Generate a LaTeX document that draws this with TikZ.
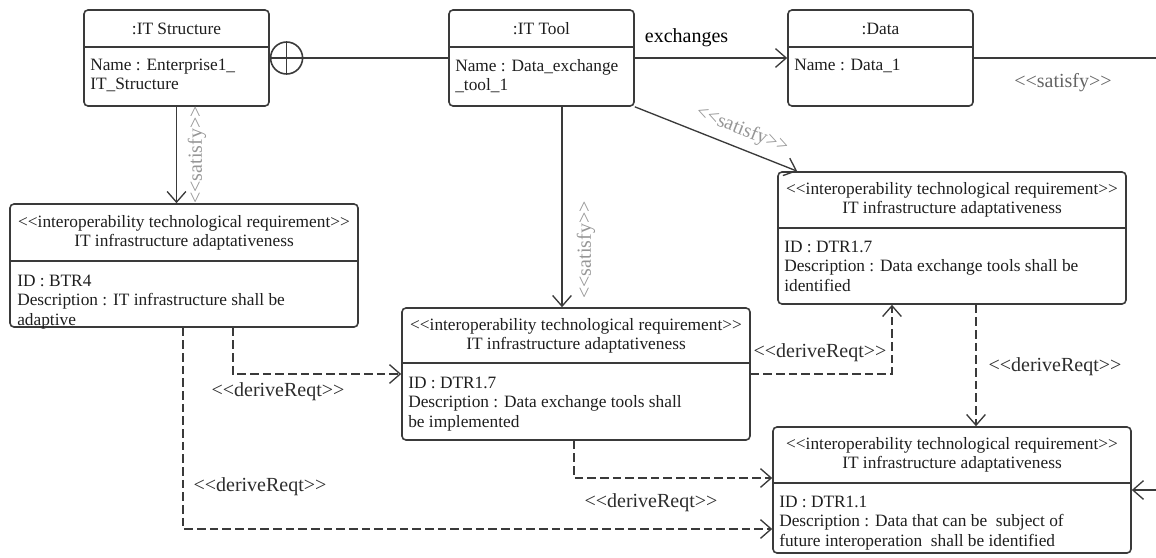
\documentclass[tikz,border=0pt]{standalone}
\usepackage{fontspec}
\newfontfamily\umlfont{Liberation Serif}
\usetikzlibrary{arrows.meta,calc,fit}
\definecolor{boxline}{RGB}{58,58,58}
\definecolor{boxtext}{RGB}{30,30,30}
\definecolor{satisfytext}{RGB}{150,150,150}
\definecolor{satisfydark}{RGB}{100,100,100}
\definecolor{derivetext}{RGB}{45,45,45}

\begin{document}
\begin{tikzpicture}[x=0.75pt, y=-0.75pt]
    \tikzstyle{every node} = [font=\umlfont\fontsize{13}{14.4}\selectfont, text=boxtext, inner sep=0pt]
    \tikzstyle{block} = [draw=boxline, line width=1.2pt, rounded corners=3pt]
    \tikzstyle{divider} = [draw=boxline, line width=1.6pt]
    \tikzstyle{head} = [align=center]
    \tikzstyle{body} = [align=left, anchor=north west]
    \tikzstyle{link} = [draw=boxline, line width=1pt]
    \tikzstyle{derive} = [link, dash pattern=on 6.5pt off 3pt]
    \tikzstyle{opentip} = [-{Straight Barb[length=8pt,width=14pt]}]
    \tikzstyle{linklabel} = [font=\umlfont\fontsize{15}{18}\selectfont]
    \tikzstyle{satisfy} = [linklabel, text=satisfytext]
    \tikzstyle{derivelabel} = [linklabel, text=derivetext]
    \useasboundingbox (0,0) rectangle (1156,557);

    % class instances
    \node[block, fit={(84,10) (269,106)}] (itstruct) {};
    \draw[divider] (84,47) -- (269,47);
    \node[head] (itstruct-name) at (176.5,28.5) {:IT Structure};
    \node[body] (itstruct-attr) at (90,59) {Name : Enterprise1\_\\IT\_Structure};

    \node[block, fit={(449,10) (634,106)}] (ittool) {};
    \draw[divider] (449,47) -- (634,47);
    \node[head] (ittool-name) at (541.5,28.5) {:IT Tool};
    \node[body] (ittool-attr) at (455,59) {Name : Data\_exchange\\\_tool\_1};

    \node[block, fit={(788,10) (973,106)}] (data) {};
    \draw[divider] (788,47) -- (973,47);
    \node[head] (data-name) at (880.5,28.5) {:Data};
    \node[body] (data-attr) at (794,59) {Name : Data\_1};

    % requirements
    \node[block, fit={(10,204) (358,327)}] (btr) {};
    \draw[divider] (10,261) -- (358,261);
    \node[head] (btr-name) at (184,232.5) {<<interoperability technological requirement>>\\IT infrastructure adaptativeness};
    \node[body] (btr-attr) at (17,275) {ID : BTR4\\Description : IT infrastructure shall be\\adaptive};

    \node[block, fit={(402,308) (750,440)}] (dtrimpl) {};
    \draw[divider] (402,363) -- (750,363);
    \node[head] (dtrimpl-name) at (576,336) {<<interoperability technological requirement>>\\IT infrastructure adaptativeness};
    \node[body] (dtrimpl-attr) at (408,377) {ID : DTR1.7\\Description : Data exchange tools shall\\be implemented};

    \node[block, fit={(778,172) (1126,304)}] (dtrident) {};
    \draw[divider] (778,228) -- (1126,228);
    \node[head] (dtrident-name) at (952,200) {<<interoperability technological requirement>>\\IT infrastructure adaptativeness};
    \node[body] (dtrident-attr) at (784,241) {ID : DTR1.7\\Description : Data exchange tools shall be\\identified};

    \node[block, fit={(773,427) (1131,553)}] (dtrfut) {};
    \draw[divider] (773,483) -- (1131,483);
    \node[head] (dtrfut-name) at (952,455) {<<interoperability technological requirement>>\\IT infrastructure adaptativeness};
    \node[body] (dtrfut-attr) at (779,496) {ID : DTR1.1\\Description : Data that can be~ subject of\\future interoperation~ shall be identified};

    % containment and association
    \node[draw=boxline, line width=1.2pt, circle, minimum size=24pt, anchor=west] (plus) at (itstruct.east) {};
    \draw[link] (plus.north) -- (plus.south) (plus.west) -- (plus.east);
    \draw[link] (plus.east) -- (ittool.west);
    \draw[link, opentip] (ittool.east) -- (data.west)
        node[linklabel, pos=.34, above=8pt, text=black] (exchanges) {exchanges};

    % satisfy
    \draw[link, opentip] (itstruct.south) -- (itstruct.south |- btr.north);
    \node[satisfy, rotate=90] (sat-btr) at (197,155) {<<satisfy>>};
    \coordinate (toolfoot) at ($(ittool.south)+(20.5,0)$);
    \draw[link, opentip] (toolfoot) -- (toolfoot |- dtrimpl.north);
    \node[satisfy, rotate=90] (sat-impl) at (586,250) {<<satisfy>>};
    \draw[link, opentip] (ittool.south east) -- ($(dtrident.north west)+(20,0)$)
        node[satisfy, pos=.62, sloped, above=6pt] (sat-ident) {<<satisfy>>};
    \coordinate (offright) at (1185,58);
    \draw[link, opentip] (data.east) -- (offright) |- (dtrfut.east);
    \node[linklabel, text=satisfydark] (sat-fut) at (1063,83) {<<satisfy>>};

    % deriveReqt
    \draw[derive, opentip] ($(btr.south)+(49,0)$) |- (dtrimpl.west);
    \node[derivelabel] (der-1) at (278,392) {<<deriveReqt>>};
    \draw[derive, opentip] ($(btr.south)+(-1,0)$) |- ($(dtrfut.west)+(0,39)$);
    \node[derivelabel] (der-2) at (260,487) {<<deriveReqt>>};
    \draw[derive, opentip] ($(dtrimpl.south)+(-2,0)$) |- ($(dtrfut.west)+(0,-12)$);
    \node[derivelabel] (der-3) at (651,503) {<<deriveReqt>>};
    \draw[derive, opentip] (dtrimpl.east) -| ($(dtrident.south)+(-60,0)$);
    \node[derivelabel] (der-4) at (820,353) {<<deriveReqt>>};
    \draw[derive, opentip] ($(dtrident.south)+(24,0)$) -- ($(dtrfut.north)+(24,0)$);
    \node[derivelabel] (der-5) at (1055,367) {<<deriveReqt>>};
\end{tikzpicture}
\end{document}
